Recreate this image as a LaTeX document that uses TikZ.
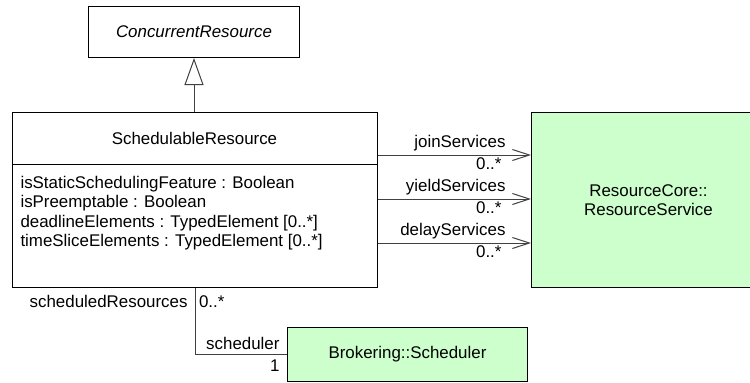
\documentclass[tikz,border=0pt]{standalone}
\usepackage{fontspec}
\setmainfont{Liberation Sans}
\usetikzlibrary{arrows.meta}
\definecolor{pkggreen}{HTML}{CCFFCC}

\begin{document}
\begin{tikzpicture}[x=1pt,y=-1pt,line width=1pt,
    font=\fontsize{16.9}{19.3}\selectfont,
    cls/.style={draw,inner sep=0pt,anchor=north west},
    lbl/.style={inner sep=0pt},
    gen/.style={black!75,-{Triangle[open,length=27pt,width=19pt]}},
    assoc/.style={black!75,-{Straight Barb[length=17pt,width=11pt]}}]
  \useasboundingbox (0,0) rectangle (750,383);
  % clases
  \node[cls,minimum width=211pt,minimum height=51pt] (cr) at (88,6) {\itshape ConcurrentResource};
  \node[cls,minimum width=365pt,minimum height=175pt] (sr) at (12,112) {};
  \node[lbl] (srname) at (194.5,138) {SchedulableResource};
  \draw (sr.west |- 0,164) -- (sr.east |- 0,164);
  \foreach \txt [count=\i from 0] in {{isStaticSchedulingFeature : Boolean},{isPreemptable : Boolean},
      {deadlineElements : TypedElement [0..*]},{timeSliceElements : TypedElement [0..*]}}
    \node[lbl,anchor=base west] (attr\i) at (20,{188.5+19.3*\i}) {\txt};
  \node[cls,fill=pkggreen,minimum width=234pt,minimum height=175pt,align=center] (rs) at (531,112)
    {ResourceCore::\\ResourceService};
  \node[cls,fill=pkggreen,minimum width=240pt,minimum height=54pt] (sch) at (287,327) {Brokering::Scheduler};
  % generalizacion
  \draw[gen] (sr.north -| cr.south) -- (cr.south);
  % asociaciones hacia ResourceService
  \foreach \y/\role [count=\i] in {155/joinServices,199/yieldServices,243/delayServices}{
    \draw[assoc] (sr.east |- 0,\y) -- (rs.west |- 0,\y);
    \node[lbl,anchor=base east] (role\i) at (506,\y-8) {\role};
    \node[lbl,anchor=base east] (mult\i) at (502,\y+14) {0..*};}
  % asociacion con el planificador
  \draw[black!75] (sr.south) |- (sch.west);
  \node[lbl,anchor=base east] (srrole) at (188,307) {scheduledResources};
  \node[lbl,anchor=base west] (srmult) at (198.5,307) {0..*};
  \node[lbl,anchor=base east] (schrole) at (280,349) {scheduler};
  \node[lbl,anchor=base east] (schmult) at (280,371) {1};
\end{tikzpicture}
\end{document}
